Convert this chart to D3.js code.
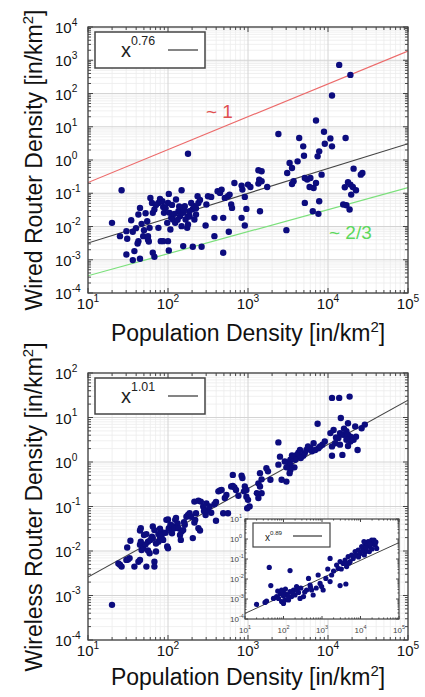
<!DOCTYPE html>
<html><head><meta charset="utf-8">
<script src="https://cdn.jsdelivr.net/npm/d3@7/dist/d3.min.js"></script>
<style>body{margin:0;background:#fff}svg{display:block}text{font-family:"Liberation Sans",Arial,sans-serif}</style>
</head><body>
<svg id="c" width="425" height="697"></svg>
<script>
// ---------- DATA (log10 values) ----------
const xTickExp = [1, 2, 3, 4, 5];
const wiredYTickExp = [-4, -3, -2, -1, 0, 1, 2, 3, 4];
const wirelessYTickExp = [-4, -3, -2, -1, 0, 1, 2];
const insetYTickExp = [-4, -3, -2, -1, 0, 1];

const wiredLogX = [1.42,1.30,1.40,1.48,1.49,1.54,1.56,1.65,1.63,1.67,1.63,1.62,1.69,1.70,1.74,1.75,1.75,1.76,1.77,1.78,1.80,1.81,1.83,1.88,1.90,1.93,1.95,1.94,1.88,1.91,1.94,2.00,2.01,2.00,1.99,2.02,2.04,2.03,2.06,2.09,2.10,2.13,2.15,2.17,2.17,2.19,2.21,2.22,2.24,2.25,2.25,2.27,2.29,2.31,2.33,2.33,2.35,2.37,2.38,2.47,2.48,2.50,2.54,2.58,2.58,2.62,2.65,2.67,2.69,2.71,2.75,2.77,2.79,2.80,2.83,2.76,2.69,1.48,1.58,1.56,1.65,1.81,1.83,2.01,2.19,2.31,2.42,
  4.14,4.28,4.05,3.85,3.38,3.95,3.64,4.03,4.22,3.96,4.05,3.69,3.89,3.70,3.87,3.52,3.62,3.55,3.49,3.92,4.32,4.43,4.41,3.71,3.74,3.78,3.57,3.55,3.85,3.77,3.82,4.25,4.28,4.21,4.31,4.35,4.29,3.71,3.89,4.19,4.23,4.27,3.81,3.88,3.48,2.92,2.93,3.00,3.03,3.13,3.17,3.14,3.17,3.13,3.24,2.96,2.98,3.15,2.92,2.96,2.25,
  1.85,1.97,2.05,2.08,2.12,2.20,2.27,2.14,1.72,1.60,2.35,2.40];
const wiredLogY = [-0.91,-1.89,-2.29,-2.14,-2.37,-1.81,-2.16,-1.44,-1.64,-1.92,-2.44,-2.51,-2.29,-2.11,-1.84,-2.29,-2.39,-2.45,-2.04,-1.14,-1.29,-1.59,-1.49,-1.29,-1.17,-1.24,-1.59,-1.41,-2.04,-2.44,-2.44,-2.44,-1.02,-1.29,-1.89,-1.59,-1.74,-2.09,-1.79,-1.89,-1.19,-1.54,-1.69,-0.91,-1.99,-1.59,-1.39,-1.79,-2.04,-1.69,-1.94,-1.54,-1.29,-1.47,-1.79,-1.39,-1.64,-1.09,-1.29,-1.97,-1.34,-1.09,-1.11,-1.74,-2.29,-0.94,-0.99,-0.89,-1.74,-1.14,-1.09,-1.04,-1.34,-1.44,-0.69,-2.16,-2.79,-2.84,-2.74,-3.01,-2.97,-2.79,-2.91,-2.72,-2.59,-2.61,-2.61,
  2.86,2.56,1.94,1.19,0.78,0.85,0.66,0.65,0.66,0.49,0.41,0.41,0.26,0.13,0.11,-0.09,-0.04,-0.24,-0.39,-0.44,-0.26,-0.39,-0.44,-0.54,-0.59,-0.54,-0.64,-0.72,-0.69,-0.81,-0.84,-0.67,-0.74,-0.82,-0.81,-0.91,-1.04,-1.29,-1.24,-1.34,-1.36,-1.49,-1.54,-1.62,-2.11,-0.77,-0.89,-0.74,-0.81,-0.31,-0.34,-0.59,-0.64,-0.71,-0.81,-1.11,-1.47,-1.54,-1.74,-1.97,0.19,
  -1.35,-1.45,-1.35,-1.62,-1.80,-1.50,-1.70,-1.40,-1.60,-2.05,-1.45,-1.20];

const wirelessLogX = [1.40,1.42,1.38,1.50,1.52,1.48,1.53,1.49,1.58,1.63,1.65,1.65,1.66,1.65,1.66,1.67,1.69,1.70,1.73,1.73,1.75,1.77,1.75,1.78,1.80,1.81,1.81,1.83,1.83,1.83,1.85,1.88,1.85,1.88,1.90,1.91,1.92,1.94,1.97,1.98,2.00,1.99,2.00,2.01,2.03,2.04,2.06,2.08,2.09,2.10,2.12,2.13,2.15,2.16,2.17,2.19,2.21,2.23,2.25,2.27,2.29,2.31,2.33,2.34,2.35,2.38,2.40,2.33,2.38,2.41,2.44,2.47,2.48,2.50,2.52,2.54,2.58,2.60,2.63,2.65,2.67,2.69,2.71,2.73,2.75,2.79,2.81,2.83,2.85,2.88,2.81,2.92,2.93,2.95,
  4.05,4.14,4.27,4.16,3.87,3.38,4.25,4.34,4.42,4.46,4.07,4.03,4.15,4.19,4.13,4.23,4.25,4.28,4.30,4.23,4.28,4.32,4.35,4.09,4.15,4.05,4.25,4.37,4.18,4.05,3.96,3.93,3.90,3.88,3.82,3.84,3.78,3.80,3.73,3.71,3.69,3.65,3.63,3.61,3.66,3.57,3.59,3.53,3.50,3.58,3.53,3.53,3.52,3.48,3.46,3.40,3.42,3.48,3.38,3.23,3.25,3.15,3.17,3.28,3.13,3.15,3.11,3.17,3.13,2.96,2.98,2.98,3.00,3.02,2.99,1.30,
  1.72,1.90,2.05,2.20,2.45,2.60,3.55,3.75,4.10,4.20];
const wirelessLogY = [-2.31,-2.35,-2.28,-2.19,-2.16,-2.20,-1.77,-1.92,-2.35,-2.24,-2.20,-1.86,-1.79,-1.54,-1.49,-1.98,-1.94,-1.64,-1.62,-2.35,-1.99,-2.05,-1.79,-1.75,-1.68,-1.71,-1.45,-1.53,-2.24,-2.35,-1.83,-1.79,-2.01,-1.62,-1.68,-1.56,-1.66,-1.75,-1.59,-1.30,-1.29,-1.90,-1.94,-1.49,-1.41,-1.53,-1.44,-1.49,-1.30,-1.26,-1.38,-1.49,-1.64,-1.75,-1.56,-1.53,-1.41,-1.23,-1.19,-1.15,-1.23,-1.71,-1.36,-1.30,-1.15,-1.49,-1.54,-0.89,-0.87,-0.89,-1.00,-1.19,-0.93,-1.08,-1.00,-1.14,-0.95,-1.32,-0.66,-0.64,-0.63,-1.15,-0.81,-0.74,-1.15,-0.55,-0.54,-0.57,-0.63,-0.76,-0.29,-0.31,-0.36,-0.66,
  1.44,1.44,1.47,0.99,0.86,0.44,0.87,0.80,0.76,0.84,0.72,0.65,0.65,0.61,0.54,0.69,0.61,0.57,0.54,0.50,0.46,0.50,0.57,0.42,0.39,0.35,0.36,0.27,0.16,0.14,0.46,0.39,0.35,0.31,0.42,0.27,0.31,0.24,0.27,0.20,0.14,0.27,0.21,0.16,0.09,0.09,0.05,0.05,-0.01,-0.12,-0.06,-0.18,-0.25,-0.12,0.01,0.12,-0.40,-0.44,-0.06,-0.14,-0.21,-0.25,-0.39,-0.40,-0.48,-0.55,-0.70,-0.70,-0.81,-0.55,-0.63,-0.78,-0.85,-1.00,-1.04,-3.21,
  -1.85,-1.50,-1.60,-1.35,-1.10,-0.90,0.15,0.35,0.55,0.75];

const insetLogX = [1.63,2.17,3.21,3.15,3.47,3.62,1.67,1.30,1.52,1.56,1.74,1.82,1.91,2.00,2.08,2.17,2.26,2.30,2.34,2.39,2.43,2.52,2.60,2.65,2.69,2.73,2.77,2.90,2.95,2.99,3.03,3.10,3.21,3.25,1.95,2.00,2.04,1.87,2.13,2.21,3.38,3.42,3.47,3.55,3.60,3.64,3.68,3.73,3.77,3.81,3.86,3.90,3.94,3.99,4.03,4.07,4.12,4.16,4.20,4.25,4.29,4.33,4.38,4.42,4.09,4.14,4.23,1.85,2.05,2.12,2.45,2.55,2.85,3.30,3.50,3.70,3.95,4.10,4.30,4.35,4.40,
  2.00,2.25,3.60,3.85,4.05,4.25,4.15,1.95,2.35,2.70];
const insetLogY = [-1.42,-1.58,-0.97,-1.50,-2.33,-2.25,-2.33,-3.27,-3.17,-3.10,-2.97,-2.88,-2.72,-2.67,-2.77,-2.63,-2.55,-2.80,-2.38,-2.67,-2.97,-2.88,-2.55,-1.97,-2.30,-2.55,-2.80,-1.80,-2.22,-2.38,-2.55,-1.97,-2.13,-1.80,-3.13,-3.22,-3.05,-2.97,-3.05,-2.88,-1.30,-1.47,-1.13,-1.22,-1.05,-1.38,-0.88,-1.13,-0.80,-0.97,-0.63,-0.80,-0.55,-0.72,-0.38,-0.47,-0.22,-0.30,-0.13,-0.38,-0.05,-0.22,-0.30,-0.47,-0.13,-0.63,-0.63,-2.60,-2.50,-2.85,-2.45,-2.65,-2.45,-1.60,-1.50,-1.20,-0.90,-0.80,-0.50,-0.05,-0.15,
  -2.85,-2.70,-1.20,-0.85,-0.60,-0.25,-0.45,-2.55,-2.55,-2.40];

// fitted / guide lines: [x, y] end points
const wiredFitLine   = [[10, 3.2e-3], [1e5, 3.1]];
const linearGuide    = [[10, 0.21],   [1e5, 1900]];
const twoThirdsGuide = [[10, 3.3e-4], [1e5, 0.148]];
const wirelessFitLine= [[10, 2.6e-3], [1e5, 24.5]];
const insetFitLine   = [[10, 1.9e-4], [1e5, 0.66]];
const wiredExponent = "0.76", wirelessExponent = "1.01", insetExponent = "0.89";

// ---------- DRAWING ----------
const svg = d3.select("#c");
const DOT = "#0c0c7e";

function pts(lx, ly){ return lx.map((v,i)=>[Math.pow(10,v), Math.pow(10,ly[i])]); }

function supText(g, x, y, base, exp, size, anchor, fill, expRatio, raise){
  const t = g.append("text").attr("x",x).attr("y",y).attr("font-size",size)
    .attr("text-anchor",anchor||"start").attr("fill",fill||"#111");
  t.append("tspan").text(base);
  t.append("tspan").attr("dy",-size*(raise||0.48)).attr("font-size",size*(expRatio||0.68)).text(exp);
  return t;
}

function panel(cfg){
  const g = svg.append("g");
  const x = d3.scaleLog().domain([10,1e5]).range([cfg.x0,cfg.x1]);
  const y = d3.scaleLog().domain(cfg.yDomain).range([cfg.y1,cfg.y0]);
  const id = "clip"+cfg.name;
  svg.append("clipPath").attr("id",id).append("rect")
    .attr("x",cfg.x0).attr("y",cfg.y0).attr("width",cfg.x1-cfg.x0).attr("height",cfg.y1-cfg.y0);
  g.append("rect").attr("x",cfg.x0).attr("y",cfg.y0).attr("width",cfg.x1-cfg.x0)
    .attr("height",cfg.y1-cfg.y0).attr("fill","#fff");
  const lo = Math.log10(cfg.yDomain[0]), hi = Math.log10(cfg.yDomain[1]);
  const minorX=[], majorX=[], minorY=[], majorY=[];
  for(let d=1; d<5; d++) for(let k=1;k<10;k++){ (k===1?majorX:minorX).push(k*Math.pow(10,d)); }
  majorX.push(1e5);
  for(let d=lo; d<hi; d++) for(let k=1;k<10;k++){ (k===1?majorY:minorY).push(k*Math.pow(10,d)); }
  majorY.push(Math.pow(10,hi));
  if(cfg.grid){
    g.selectAll(null).data(minorX).join("line").attr("x1",d=>x(d)).attr("x2",d=>x(d))
      .attr("y1",cfg.y0).attr("y2",cfg.y1).attr("stroke","#ececec").attr("stroke-width",0.8);
    g.selectAll(null).data(minorY).join("line").attr("y1",d=>y(d)).attr("y2",d=>y(d))
      .attr("x1",cfg.x0).attr("x2",cfg.x1).attr("stroke","#ececec").attr("stroke-width",0.8);
    g.selectAll(null).data(majorX).join("line").attr("x1",d=>x(d)).attr("x2",d=>x(d))
      .attr("y1",cfg.y0).attr("y2",cfg.y1).attr("stroke","#d4d4d4").attr("stroke-width",1);
    g.selectAll(null).data(majorY).join("line").attr("y1",d=>y(d)).attr("y2",d=>y(d))
      .attr("x1",cfg.x0).attr("x2",cfg.x1).attr("stroke","#d4d4d4").attr("stroke-width",1);
  }
  const tk = g.append("g").attr("stroke","#333").attr("stroke-width",0.9);
  const Lm = cfg.tickMajor, Ln = cfg.tickMinor;
  [[majorX,Lm],[minorX,Ln]].forEach(([arr,L])=>{
    tk.selectAll(null).data(arr).join("line").attr("x1",d=>x(d)).attr("x2",d=>x(d)).attr("y1",cfg.y1).attr("y2",cfg.y1-L);
    tk.selectAll(null).data(arr).join("line").attr("x1",d=>x(d)).attr("x2",d=>x(d)).attr("y1",cfg.y0).attr("y2",cfg.y0+L);
  });
  [[majorY,Lm],[minorY,Ln]].forEach(([arr,L])=>{
    tk.selectAll(null).data(arr).join("line").attr("y1",d=>y(d)).attr("y2",d=>y(d)).attr("x1",cfg.x0).attr("x2",cfg.x0+L);
    tk.selectAll(null).data(arr).join("line").attr("y1",d=>y(d)).attr("y2",d=>y(d)).attr("x1",cfg.x1).attr("x2",cfg.x1-L);
  });
  const plot = g.append("g").attr("clip-path","url(#"+id+")");
  const line = d3.line().x(d=>x(d[0])).y(d=>y(d[1]));
  cfg.lines.forEach(l=>{
    plot.append("path").attr("d",line(l.data)).attr("fill","none").attr("stroke",l.color).attr("stroke-width",l.w||1.2);
  });
  plot.selectAll(null).data(cfg.points).join("circle").attr("cx",d=>x(d[0])).attr("cy",d=>y(d[1]))
    .attr("r",cfg.r).attr("fill",DOT);
  g.append("rect").attr("x",cfg.x0).attr("y",cfg.y0).attr("width",cfg.x1-cfg.x0)
    .attr("height",cfg.y1-cfg.y0).attr("fill","none").attr("stroke","#444").attr("stroke-width",cfg.frameW||1.3);
  const fs = cfg.fs;
  xTickExp.forEach(e=>supText(g, x(Math.pow(10,e)), cfg.y1+cfg.xLabDy, "10", String(e), fs, "middle", cfg.labColor));
  cfg.yTicks.forEach(e=>supText(g, cfg.yLabX, y(Math.pow(10,e))+cfg.yLabDy, "10", String(e), fs, "start", cfg.labColor));
  return {g,x,y};
}

function legend(g, bx, by, bw, bh, exp, tx, ty, fs, lx1, lx2, ly, sw){
  g.append("rect").attr("x",bx).attr("y",by).attr("width",bw).attr("height",bh)
    .attr("fill","#fff").attr("stroke","#444").attr("stroke-width",sw||1.5);
  supText(g, tx, ty, "x", exp, fs, "start", "#222", 0.62, 0.62);
  g.append("line").attr("x1",lx1).attr("x2",lx2).attr("y1",ly).attr("y2",ly).attr("stroke","#333").attr("stroke-width",1.2);
}

// ----- top panel -----
const topPanel = panel({name:"top", x0:88, x1:408, y0:27, y1:293, yDomain:[1e-4,1e4], grid:true,
  tickMajor:5, tickMinor:3, r:3.2, fs:15, xLabDy:16, yLabX:55, yLabDy:6, yTicks:wiredYTickExp,
  points:pts(wiredLogX, wiredLogY),
  lines:[{data:linearGuide,color:"#ec6a6a"},{data:twoThirdsGuide,color:"#7be07b"},{data:wiredFitLine,color:"#444",w:1.1}]});
legend(topPanel.g, 95, 32, 110, 36, wiredExponent, 121, 57, 20, 168, 198, 50);
topPanel.g.append("text").attr("x",206).attr("y",118).attr("font-size",19).attr("fill","#e05050").text("~ 1");
topPanel.g.append("text").attr("x",329).attr("y",239).attr("font-size",19).attr("fill","#5cd85c").text("~ 2/3");

// ----- bottom panel -----
const botPanel = panel({name:"bot", x0:88, x1:408, y0:373, y1:640, yDomain:[1e-4,1e2], grid:true,
  tickMajor:5, tickMinor:3, r:3.2, fs:15, xLabDy:16, yLabX:55, yLabDy:6, yTicks:wirelessYTickExp,
  points:pts(wirelessLogX, wirelessLogY),
  lines:[{data:wirelessFitLine,color:"#444",w:1.1}]});
legend(botPanel.g, 95, 378, 110, 36, wirelessExponent, 121, 403, 20, 168, 198, 396);

// ----- inset -----
const insPanel = panel({name:"ins", x0:245, x1:399, y0:519, y1:619, yDomain:[1e-4,1e1], grid:false,
  tickMajor:3, tickMinor:1.5, r:2.6, fs:8, xLabDy:14, yLabX:230, yLabDy:3, yTicks:insetYTickExp, labColor:"#444", frameW:1.2,
  points:pts(insetLogX, insetLogY),
  lines:[{data:insetFitLine,color:"#444",w:1}]});
legend(insPanel.g, 253, 523, 77, 24, insetExponent, 265, 541, 10, 293, 322, 536, 1.2);

// ----- axis titles -----
function axisTitle(x, y, rot, base){
  const t = svg.append("text").attr("font-size",23).attr("text-anchor","middle").attr("fill","#111")
    .attr("transform",`translate(${x},${y}) rotate(${rot})`);
  t.append("tspan").text(base);
  t.append("tspan").attr("dy",-9).attr("font-size",15).text("2");
  t.append("tspan").attr("dy",9).text("]");
}
axisTitle(248, 341, 0, "Population Density [in/km");
axisTitle(42, 160, -90, "Wired Router Density [in/km");
axisTitle(248, 685, 0, "Population Density [in/km");
axisTitle(42, 507, -90, "Wireless Router Density [in/km");
</script>
</body></html>
